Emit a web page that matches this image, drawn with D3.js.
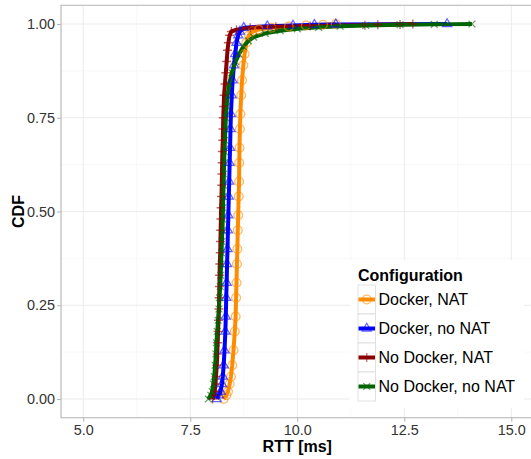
<!DOCTYPE html>
<html>
<head>
<meta charset="utf-8">
<script src="https://cdn.jsdelivr.net/npm/d3@7"></script>
<style>
body { margin: 0; background: #fff; }
svg { display: block; font-family: 'Liberation Sans', Arial, sans-serif; }
</style>
</head>
<body>
<div id="chart"></div>
<script>
// RTT (ms) and CDF, one pair of arrays per configuration
var dockerNatRtt = [8.28, 8.34, 8.38, 8.42, 8.45, 8.48, 8.51, 8.54, 8.56, 8.57, 8.58, 8.59, 8.60, 8.61, 8.62, 8.63, 8.64, 8.645, 8.65, 8.66, 8.67, 8.69, 8.71, 8.74, 8.77, 8.81, 8.87, 8.95, 9.1, 9.4, 9.8, 10.2, 10.6, 10.9];
var dockerNatCdf = [0, 0.01, 0.02, 0.04, 0.06, 0.09, 0.13, 0.18, 0.22, 0.27, 0.31, 0.36, 0.40, 0.45, 0.49, 0.54, 0.58, 0.63, 0.67, 0.72, 0.76, 0.81, 0.85, 0.89, 0.92, 0.95, 0.97, 0.98, 0.985, 0.99, 0.993, 0.996, 0.998, 1];

var dockerNoNatRtt = [8.12, 8.17, 8.21, 8.24, 8.26, 8.28, 8.30, 8.32, 8.33, 8.34, 8.35, 8.36, 8.37, 8.38, 8.39, 8.40, 8.41, 8.42, 8.43, 8.44, 8.45, 8.47, 8.49, 8.52, 8.55, 8.58, 8.62, 8.66, 8.75, 9.3, 9.9, 10.4, 10.9, 13.5];
var dockerNoNatCdf = [0, 0.01, 0.02, 0.04, 0.06, 0.09, 0.13, 0.18, 0.22, 0.27, 0.31, 0.36, 0.40, 0.45, 0.49, 0.54, 0.58, 0.63, 0.67, 0.72, 0.76, 0.81, 0.85, 0.89, 0.92, 0.95, 0.97, 0.98, 0.99, 0.994, 0.996, 0.998, 0.999, 1];

var noDockerNatRtt = [8.02, 8.05, 8.07, 8.09, 8.10, 8.12, 8.13, 8.14, 8.15, 8.16, 8.17, 8.175, 8.18, 8.185, 8.19, 8.20, 8.205, 8.21, 8.215, 8.22, 8.23, 8.235, 8.24, 8.245, 8.25, 8.26, 8.265, 8.27, 8.28, 8.29, 8.31, 8.33, 8.35, 8.37, 8.39, 8.42, 8.46, 8.58, 8.9, 9.5, 10.3, 11.58, 11.88, 12.4, 12.7];
var noDockerNatCdf = [0, 0.01, 0.02, 0.04, 0.06, 0.09, 0.12, 0.15, 0.18, 0.21, 0.24, 0.27, 0.30, 0.33, 0.36, 0.39, 0.42, 0.45, 0.48, 0.51, 0.54, 0.57, 0.60, 0.63, 0.66, 0.69, 0.72, 0.75, 0.78, 0.81, 0.84, 0.87, 0.90, 0.93, 0.95, 0.97, 0.98, 0.985, 0.99, 0.993, 0.995, 0.997, 0.998, 0.999, 1];

var noDockerNoNatRtt = [7.92, 7.98, 8.01, 8.04, 8.06, 8.08, 8.10, 8.11, 8.13, 8.15, 8.17, 8.18, 8.20, 8.21, 8.22, 8.23, 8.24, 8.25, 8.26, 8.265, 8.27, 8.28, 8.285, 8.29, 8.30, 8.31, 8.32, 8.33, 8.35, 8.37, 8.41, 8.47, 8.56, 8.64, 8.74, 8.86, 8.98, 9.25, 9.6, 10.0, 10.5, 11.0, 11.6, 12.4, 13.2, 14.08];
var noDockerNoNatCdf = [0, 0.01, 0.02, 0.04, 0.06, 0.09, 0.12, 0.15, 0.18, 0.21, 0.24, 0.27, 0.30, 0.33, 0.36, 0.39, 0.42, 0.45, 0.48, 0.51, 0.54, 0.57, 0.60, 0.63, 0.66, 0.69, 0.72, 0.75, 0.78, 0.81, 0.84, 0.87, 0.90, 0.92, 0.94, 0.955, 0.965, 0.975, 0.982, 0.987, 0.991, 0.994, 0.996, 0.998, 0.999, 1];

var configNames = ['Docker, NAT', 'Docker, no NAT', 'No Docker, NAT', 'No Docker, no NAT'];
var configColors = ['#ff8c00', '#0000ff', '#8b0000', '#006400'];
var configShapes = ['circle', 'triangle', 'plus', 'cross'];

var xTicks = [5, 7.5, 10, 12.5, 15];
var xMinor = [6.25, 8.75, 11.25, 13.75];
var yTicks = [0, 0.25, 0.5, 0.75, 1];
var yMinor = [0.125, 0.375, 0.625, 0.875];

var series = [
    {rtt: dockerNatRtt, cdf: dockerNatCdf},
    {rtt: dockerNoNatRtt, cdf: dockerNoNatCdf},
    {rtt: noDockerNatRtt, cdf: noDockerNatCdf},
    {rtt: noDockerNoNatRtt, cdf: noDockerNoNatCdf}
].map(function(s, i) {
    return {
        name: configNames[i],
        color: configColors[i],
        shape: configShapes[i],
        values: s.rtt.map(function(r, j) { return {rtt: r, cdf: s.cdf[j]}; })
    };
});

//Dimension and Margin
var W = 531, H = 459;
var margin = { top: 5.25, bottom: 41.25, left: 61, right: 0 };

var svg = d3.select('#chart')
    .append('svg')
    .attr('width', W)
    .attr('height', H);

var xScale = d3.scaleLinear()
    .domain([4.48, 15.46])
    .range([margin.left, W - margin.right]);

var yScale = d3.scaleLinear()
    .domain([-0.05, 1.05])
    .range([H - margin.bottom, margin.top]);

var x0 = margin.left, x1 = W, y0 = margin.top, y1 = H - margin.bottom;

//Grid
var grid = svg.append('g');
grid.selectAll('.vminor').data(xMinor).enter().append('line')
    .attr('x1', d => xScale(d)).attr('x2', d => xScale(d))
    .attr('y1', y0).attr('y2', y1)
    .attr('stroke', '#f4f4f4').attr('stroke-width', 0.6);
grid.selectAll('.hminor').data(yMinor).enter().append('line')
    .attr('x1', x0).attr('x2', x1)
    .attr('y1', d => yScale(d)).attr('y2', d => yScale(d))
    .attr('stroke', '#f4f4f4').attr('stroke-width', 0.6);
grid.selectAll('.vmajor').data(xTicks).enter().append('line')
    .attr('x1', d => xScale(d)).attr('x2', d => xScale(d))
    .attr('y1', y0).attr('y2', y1)
    .attr('stroke', '#ebebeb').attr('stroke-width', 1);
grid.selectAll('.hmajor').data(yTicks).enter().append('line')
    .attr('x1', x0).attr('x2', x1)
    .attr('y1', d => yScale(d)).attr('y2', d => yScale(d))
    .attr('stroke', '#ebebeb').attr('stroke-width', 1);

//Lines
var line = d3.line()
    .x(d => xScale(d.rtt))
    .y(d => yScale(d.cdf));

svg.append('g').selectAll('path')
    .data(series)
    .enter().append('path')
    .attr('d', d => line(d.values))
    .attr('fill', 'none')
    .attr('stroke', d => d.color)
    .attr('stroke-width', 4)
    .attr('stroke-linejoin', 'round');

//Markers
function markerPath(shape) {
    if (shape === 'triangle') return d3.symbol().type(d3.symbolTriangle).size(36)();
    if (shape === 'plus') return 'M-4.5,0H4.5M0,-4.5V4.5';
    if (shape === 'cross') return 'M-3.4,-3.4L3.4,3.4M-3.4,3.4L3.4,-3.4';
    return 'M4.4,0A4.4,4.4,0,1,1,-4.4,0A4.4,4.4,0,1,1,4.4,0Z';
}

series.forEach(function(s) {
    svg.append('g').selectAll('path')
        .data(s.values)
        .enter().append('path')
        .attr('transform', d => 'translate(' + xScale(d.rtt) + ',' + yScale(d.cdf) + ')')
        .attr('d', markerPath(s.shape))
        .attr('fill', 'none')
        .attr('stroke', s.color)
        .attr('stroke-width', 1.3)
        .attr('stroke-opacity', 0.6);
});

//Panel border
svg.append('path')
    .attr('d', 'M' + (W + 2) + ',' + y0 + 'H' + x0 + 'V' + y1 + 'H' + (W + 2))
    .attr('fill', 'none')
    .attr('stroke', '#b3b3b3')
    .attr('stroke-width', 1.1);

//X-Axis
var xAxis = svg.append('g')
    .attr('transform', 'translate(0,' + y1 + ')')
    .call(d3.axisBottom(xScale).tickValues(xTicks).tickFormat(d3.format('.1f')).tickSize(4).tickPadding(3));
xAxis.select('.domain').remove();
xAxis.selectAll('line').attr('stroke', '#b3b3b3');
xAxis.selectAll('text').attr('font-size', 14.4).attr('fill', '#333')
    .attr('font-family', "'Liberation Sans', Arial, sans-serif");

svg.append('text')
    .attr('x', xScale(10))
    .attr('y', 452)
    .attr('text-anchor', 'middle')
    .attr('font-size', 16)
    .attr('font-weight', 'bold')
    .text('RTT [ms]');

//Y-Axis
var yAxis = svg.append('g')
    .attr('transform', 'translate(' + x0 + ',0)')
    .call(d3.axisLeft(yScale).tickValues(yTicks).tickFormat(d3.format('.2f')).tickSize(4).tickPadding(2));
yAxis.select('.domain').remove();
yAxis.selectAll('line').attr('stroke', '#b3b3b3');
yAxis.selectAll('text').attr('font-size', 14.4).attr('fill', '#333')
    .attr('font-family', "'Liberation Sans', Arial, sans-serif");

svg.append('text')
    .attr('transform', 'translate(24,' + yScale(0.5) + ') rotate(-90)')
    .attr('text-anchor', 'middle')
    .attr('font-size', 16)
    .attr('font-weight', 'bold')
    .text('CDF');

// Legend
var legend = svg.append('g');
legend.append('rect')
    .attr('x', 350).attr('y', 260)
    .attr('width', 174).attr('height', 148)
    .attr('fill', '#fff');
legend.append('text')
    .attr('x', 358).attr('y', 280.5)
    .attr('font-size', 16)
    .attr('font-weight', 'bold')
    .text('Configuration');

var keys = legend.selectAll('.key')
    .data(series)
    .enter().append('g')
    .attr('transform', (d, i) => 'translate(358,' + (285 + i * 29) + ')');

keys.append('rect')
    .attr('x', 0).attr('y', 0)
    .attr('width', 17.5).attr('height', 29)
    .attr('fill', '#fff')
    .attr('stroke', '#d9d9d9')
    .attr('stroke-width', 0.8);
keys.append('line')
    .attr('x1', 0.5).attr('x2', 17)
    .attr('y1', 14.5).attr('y2', 14.5)
    .attr('stroke', d => d.color)
    .attr('stroke-width', 4);
keys.append('path')
    .attr('transform', 'translate(8.75,14.5)')
    .attr('d', d => markerPath(d.shape))
    .attr('fill', 'none')
    .attr('stroke', d => d.color)
    .attr('stroke-width', 1.2)
    .attr('stroke-opacity', 0.6);
keys.append('text')
    .attr('x', 20.5).attr('y', 14.5)
    .attr('dy', '0.36em')
    .attr('font-size', 16)
    .text(d => d.name);
</script>
</body>
</html>
